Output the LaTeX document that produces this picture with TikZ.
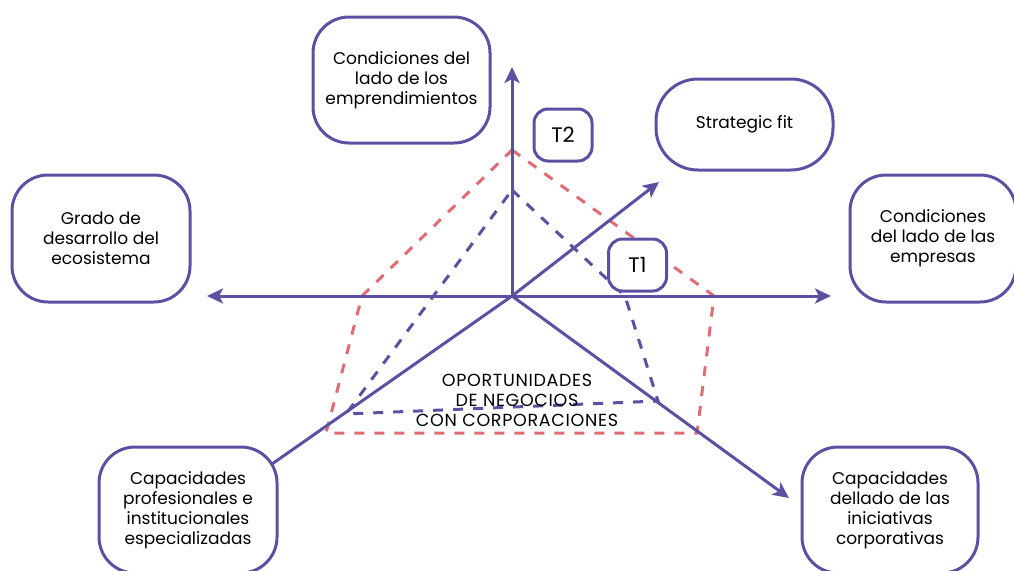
\documentclass[tikz,border=0pt]{standalone}
\usepackage{fontspec}
\setmainfont{Poppins}
\newfontfamily\oppfont[LetterSpace=4]{Poppins}
\usetikzlibrary{arrows.meta}
\definecolor{pur}{RGB}{91,81,163}
\definecolor{rosy}{RGB}{226,108,117}
\tikzset{
  lbl/.style={font={\fontsize{17}{20}\selectfont}, align=center, text=black},
  bigbox/.style={lbl, draw=pur, line width=3pt, fill=white, rounded corners=36pt, inner sep=0pt},
  tbox/.style={draw=pur, line width=3pt, fill=white, rounded corners=14pt, inner sep=0pt,
     minimum width=58pt, minimum height=52pt, font={\fontsize{21}{24}\selectfont}},
  axis/.style={draw=pur, line width=3pt, -{Stealth[length=16pt,width=15pt,inset=4pt]}},
  axisline/.style={draw=pur, line width=3pt},
  rdash/.style={draw=rosy, line width=3pt, dash pattern=on 10pt off 10pt},
  pdash/.style={draw=pur, line width=3pt, dash pattern=on 10pt off 10pt},
}
\begin{document}
\begin{tikzpicture}[x=1pt,y=-1pt]
\useasboundingbox (0,0) rectangle (1014,570);
% dashed polygons
\coordinate (r1) at (512,150);
\coordinate (r2) at (714,296);
\coordinate (r3) at (697,433);
\coordinate (r4) at (326,433);
\coordinate (r5) at (362,296);
\draw[rdash] (r1) -- (r2) -- (r3) -- (r4) -- (r5) -- cycle;
\coordinate (p1) at (512,190);
\coordinate (p2) at (625,296);
\coordinate (p3) at (658,401);
\coordinate (p4) at (346,414);
\draw[pdash] (p1) -- (p2) -- (p3) -- (p4) -- cycle;
% axes
\coordinate (O) at (512,296);
\coordinate (tU) at (512,67);
\coordinate (tL) at (207,296);
\coordinate (tR) at (831,296);
\coordinate (tUR) at (659,182);
\coordinate (tDR) at (789,498);
\coordinate (eDL) at (272,464);
\draw[axis] (O) -- (tU);
\draw[axis] (O) -- (tL);
\draw[axis] (O) -- (tR);
\draw[axis] (O) -- (tUR);
\draw[axis] (O) -- (tDR);
\draw[axisline] (O) -- (eDL);
% boxes
\node[bigbox, minimum width=177pt, minimum height=126pt] (top) at (401.5,80) {Condiciones del\\lado de los\\emprendimientos};
\node[bigbox, minimum width=177pt, minimum height=91pt, rounded corners=42pt] (sf) at (744.5,124.5) {Strategic fit};
\node[bigbox, minimum width=178pt, minimum height=127pt] (left) at (101,238.5) {Grado de\\desarrollo del\\ecosistema};
\node[bigbox, minimum width=166pt, minimum height=127pt] (right) at (933,238.5) {Condiciones\\del lado de las\\empresas};
\node[bigbox, minimum width=178pt, minimum height=126pt] (bl) at (188,510) {Capacidades\\profesionales e\\institucionales\\especializadas};
\node[bigbox, minimum width=176pt, minimum height=126pt] (br) at (890,510) {Capacidades\\dellado de las\\iniciativas\\corporativas};
\node[tbox] (T2) at (563,135) {T2};
\node[tbox] (T1) at (637.5,265) {T1};
\node[lbl, font={\oppfont\fontsize{17.5}{20}\selectfont}] (opp) at (517,400) {OPORTUNIDADES\\DE NEGOCIOS\\CON CORPORACIONES};
\end{tikzpicture}
\end{document}
